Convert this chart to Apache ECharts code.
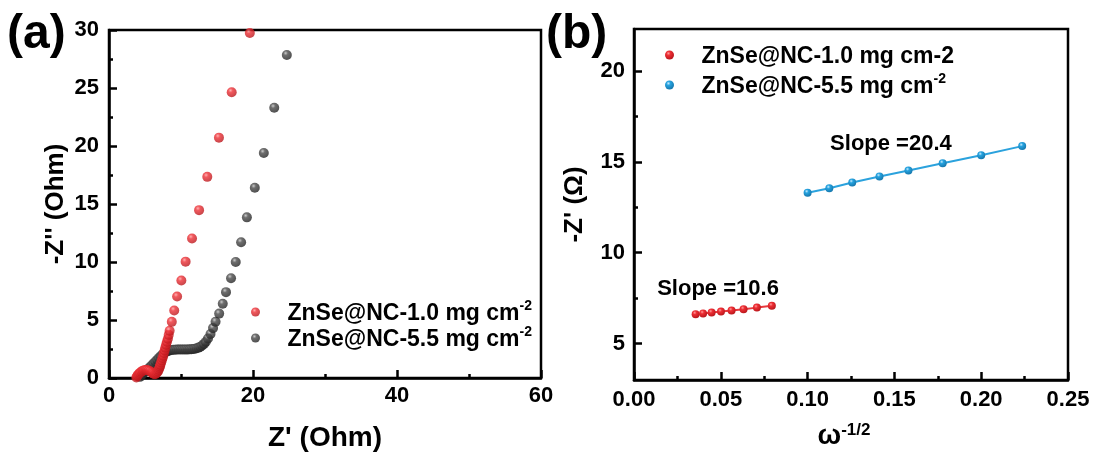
<!DOCTYPE html>
<html>
<head>
<meta charset="utf-8">
<script src="https://cdn.jsdelivr.net/npm/echarts@6/dist/echarts.min.js"></script>
<style>
html,body{margin:0;padding:0;background:#fff;}
#c{width:1097px;height:459px;}
</style>
</head>
<body>
<div id="c"></div>
<script>
// Panel (a) Nyquist data
const aRedX = [3.8,3.9,4.0,4.15,4.3,4.5,4.7,4.9,5.1,5.3,5.5,5.7,5.9,6.05,6.2,6.35,6.5,6.65,6.8,6.9,7.0,7.07,7.14,7.24,7.34,7.44,7.54,7.63,7.73,7.83,7.93,8.05,8.18,8.3,8.42,8.72,9.06,9.46,10.05,10.64,11.53,12.51,13.65,15.27,17.04,19.56];
const aRedY = [0.05,0.15,0.25,0.35,0.45,0.55,0.62,0.67,0.69,0.68,0.64,0.58,0.5,0.42,0.36,0.33,0.36,0.45,0.57,0.72,0.86,1.0,1.15,1.33,1.52,1.72,1.92,2.15,2.38,2.62,2.87,3.12,3.38,3.72,4.07,4.84,5.82,7.02,8.40,10.03,12.03,14.47,17.34,20.72,24.64,29.74];
const aGrayX = [4.3,4.5,4.7,4.95,5.2,5.45,5.7,5.95,6.2,6.45,6.7,6.95,7.2,7.45,7.7,7.95,8.2,8.45,8.7,8.95,9.2,9.45,9.7,9.95,10.2,10.45,10.7,10.95,11.2,11.45,11.7,11.95,12.2,12.45,12.7,12.95,13.2,13.45,13.75,14.1,14.45,14.8,15.3,15.8,16.25,16.95,17.6,18.35,19.15,20.25,21.5,22.95,24.7];
const aGrayY = [0.1,0.22,0.35,0.5,0.65,0.8,0.95,1.1,1.26,1.42,1.58,1.74,1.9,2.04,2.16,2.26,2.33,2.38,2.41,2.43,2.44,2.45,2.45,2.45,2.45,2.45,2.46,2.46,2.47,2.48,2.5,2.53,2.57,2.62,2.7,2.8,2.94,3.12,3.4,3.8,4.3,4.85,5.55,6.4,7.4,8.6,10.0,11.7,13.85,16.4,19.4,23.3,27.85];
// Panel (b) Warburg data
const bRedX = [0.0355,0.0398,0.0447,0.0501,0.0562,0.0631,0.0708,0.0794];
const bRedY = [6.62,6.66,6.71,6.76,6.82,6.89,6.98,7.08];
const bBlueX = [0.1,0.1125,0.1257,0.1414,0.1581,0.1778,0.2,0.2236];
const bBlueY = [13.3,13.54,13.86,14.19,14.52,14.92,15.36,15.86];
// Tick labels / texts
const aXTicks = [0,20,40,60];
const aYTicks = [0,5,10,15,20,25,30];
const bXTicks = [0,0.05,0.10,0.15,0.20,0.25];
const bYTicks = [5,10,15,20];
const bYMinor = [7.5,12.5,17.5];
const slopeTexts = ['Slope =10.6','Slope =20.4'];

const zip = (xs, ys) => xs.map((x, i) => [x, ys[i]]);
const FONT = 'Liberation Sans, Arial, sans-serif';
function ball(hi, mid, dark){
  return {type:'radial', x:0.38, y:0.32, r:0.7, colorStops:[
    {offset:0, color:hi},{offset:0.32, color:mid},{offset:1, color:dark}]};
}
const redBall = ball('#ff9c9c','#ee2f35','#b8161b');
const grayBall = ball('#bdbdbd','#4a4a4a','#222222');
const blueBall = ball('#c8ecff','#26a3e0','#1676ab');

const labelMap = {
  a1: '{t|ZnSe@NC-1.0 mg cm}{s|-2}',
  a2: '{t|ZnSe@NC-5.5 mg cm}{s|-2}',
  b1: '{t|ZnSe@NC-1.0 mg cm-2}',
  b2: '{t|ZnSe@NC-5.5 mg cm}{s|-2}'
};
const richLeg = {
  t:{fontFamily:FONT, fontWeight:'bold', fontSize:23, color:'#000', lineHeight:26, verticalAlign:'bottom'},
  s:{fontFamily:FONT, fontWeight:'bold', fontSize:14, color:'#000', lineHeight:14, verticalAlign:'top'}
};
const tickLab = {show:true, fontFamily:FONT, fontWeight:'bold', fontSize:22, color:'#000'};
const axLine = {show:true, lineStyle:{color:'#000', width:2.5}};
const nameStyle = {fontFamily:FONT, fontWeight:'bold', fontSize:26, color:'#000'};
const majTick = {show:true, inside:true, length:8, lineStyle:{color:'#000', width:2.5}};
const minTick = {show:true, splitNumber:2, length:4, lineStyle:{color:'#000', width:2.5}};

const chart = echarts.init(document.getElementById('c'), null, {renderer:'canvas'});
chart.setOption({
  backgroundColor:'#fff',
  animation:false,
  grid:[
    {left:109, top:30, width:432, height:348, show:true, borderColor:'#000', borderWidth:2.5, backgroundColor:'transparent'},
    {left:634, top:29, width:434, height:351, show:true, borderColor:'#000', borderWidth:2.5, backgroundColor:'transparent'}
  ],
  xAxis:[
    {type:'value', gridIndex:0, min:aXTicks[0], max:aXTicks[aXTicks.length-1], interval:20,
     axisLine:axLine, splitLine:{show:false}, axisTick:majTick, minorTick:minTick,
     axisLabel:Object.assign({margin:7}, tickLab),
     name:"Z' (Ohm)", nameLocation:'middle', nameGap:46,
     nameTextStyle:Object.assign({}, nameStyle, {fontSize:28})},
    {type:'value', gridIndex:1, min:bXTicks[0], max:bXTicks[bXTicks.length-1], interval:0.05,
     axisLine:axLine, splitLine:{show:false}, axisTick:majTick, minorTick:minTick,
     axisLabel:Object.assign({margin:9, formatter:v=>v.toFixed(2)}, tickLab),
     name:'{w|ω}{s|-1/2}', nameLocation:'middle', nameGap:42,
     nameTextStyle:{padding:[0,14,0,0], rich:{
       w:{fontFamily:FONT, fontWeight:'bold', fontSize:28, color:'#000', lineHeight:28, verticalAlign:'bottom'},
       s:{fontFamily:FONT, fontWeight:'bold', fontSize:17, color:'#000', lineHeight:16, verticalAlign:'top'}}}}
  ],
  yAxis:[
    {type:'value', gridIndex:0, min:aYTicks[0], max:aYTicks[aYTicks.length-1], interval:5,
     axisLine:axLine, splitLine:{show:false}, axisTick:majTick, minorTick:minTick,
     axisLabel:Object.assign({margin:10}, tickLab),
     name:"-Z'' (Ohm)", nameLocation:'middle', nameGap:40, nameTextStyle:nameStyle},
    {type:'value', gridIndex:1, min:3, max:22.3,
     axisLine:axLine, splitLine:{show:false},
     axisTick:Object.assign({customValues:bYTicks}, majTick),
     axisLabel:Object.assign({margin:9, customValues:bYTicks}, tickLab),
     name:"-Z' (Ω)", nameLocation:'middle', nameGap:46, nameTextStyle:nameStyle},
    {type:'value', gridIndex:1, min:3, max:22.3, position:'left',
     axisLine:{show:false}, splitLine:{show:false},
     axisTick:{show:true, inside:true, length:4, customValues:bYMinor, lineStyle:{color:'#000', width:2.5}},
     axisLabel:{show:false}}
  ],
  legend:[
    {orient:'vertical', left:246, top:294, itemWidth:54, itemHeight:9, itemGap:0, icon:'circle',
     data:['a1','a2'], formatter:n=>labelMap[n], textStyle:{rich:richLeg}, selectedMode:false},
    {orient:'vertical', left:660, top:40, itemWidth:54, itemHeight:9, itemGap:4, icon:'circle',
     data:['b1','b2'], formatter:n=>labelMap[n], textStyle:{rich:richLeg}, selectedMode:false}
  ],
  graphic:[
    {type:'text', left:7, top:11, style:{text:'(a)', font:'bold 48px '+FONT, fill:'#000'}},
    {type:'text', left:546, top:11, style:{text:'(b)', font:'bold 48px '+FONT, fill:'#000'}}
  ],
  series:[
    {name:'a2', type:'scatter', xAxisIndex:0, yAxisIndex:0, data:zip(aGrayX, aGrayY),
     symbol:'circle', symbolSize:10, itemStyle:{color:grayBall}},
    {name:'a1', type:'scatter', xAxisIndex:0, yAxisIndex:0, data:zip(aRedX, aRedY),
     symbol:'circle', symbolSize:10, itemStyle:{color:redBall}},
    {name:'b1', type:'line', xAxisIndex:1, yAxisIndex:1, data:zip(bRedX, bRedY),
     symbol:'circle', symbolSize:8, showSymbol:true, lineStyle:{color:'#e8393e', width:2},
     itemStyle:{color:redBall},
     markPoint:{symbol:'circle', symbolSize:0, data:[{coord:[0.0484,8.0]}],
       label:{show:true, position:'inside', formatter:slopeTexts[0], fontFamily:FONT, fontWeight:'bold', fontSize:22, color:'#000'}}},
    {name:'b2', type:'line', xAxisIndex:1, yAxisIndex:1, data:zip(bBlueX, bBlueY),
     symbol:'circle', symbolSize:8, showSymbol:true, lineStyle:{color:'#2ba2dd', width:2},
     itemStyle:{color:blueBall},
     markPoint:{symbol:'circle', symbolSize:0, data:[{coord:[0.148,15.98]}],
       label:{show:true, position:'inside', formatter:slopeTexts[1], fontFamily:FONT, fontWeight:'bold', fontSize:22, color:'#000'}}}
  ]
});
</script>
</body>
</html>
